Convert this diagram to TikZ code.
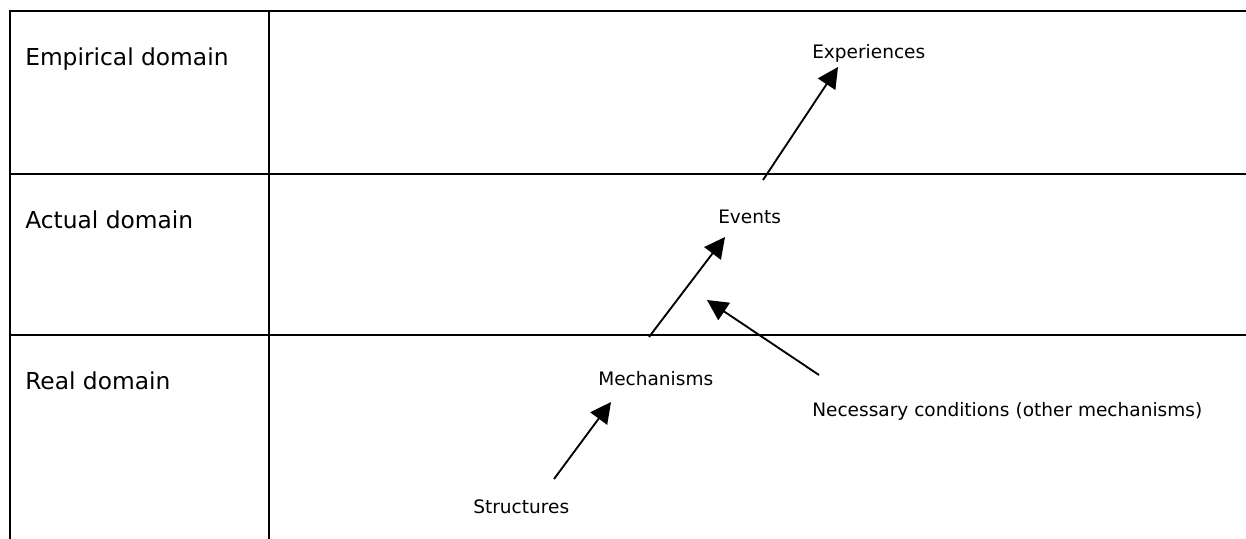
\documentclass[tikz,border=0pt]{standalone}
\usepackage{fontspec}
\setmainfont{DejaVu Sans}
\usetikzlibrary{arrows.meta}
\begin{document}
\begin{tikzpicture}[x=0.75pt,y=-0.75pt,
  rule/.style={line width=1.6pt},
  rowhead/.style={anchor=base west,inner sep=0pt,font=\fontsize{17.5}{20}\selectfont},
  item/.style={anchor=base west,inner sep=0pt,font=\fontsize{13.9}{16}\selectfont},
  arr/.style={line width=1.4pt,-{Triangle[length=15.5pt,width=15.5pt]}}]
\useasboundingbox (0,0) rectangle (1246,539);
% table rules
\draw[rule] (10,539) -- (10,11) -- (1246,11);
\draw[rule] (269,11) -- (269,539);
\draw[rule] (10,174) -- (1246,174);
\draw[rule] (10,335) -- (1246,335);
% row headings
\node[rowhead] (emp) at (25,65) {Empirical domain};
\node[rowhead] (act) at (25,228) {Actual domain};
\node[rowhead] (real) at (25,389) {Real domain};
% layer contents
\node[item] (exp) at (812,58) {Experiences};
\node[item] (ev) at (718,223) {Events};
\node[item] (mech) at (598,385) {Mechanisms};
\node[item] (nec) at (812,416) {Necessary conditions (other mechanisms)};
\node[item] (str) at (473,513) {Structures};
% generative links
\draw[arr] ([shift={(81,-34)}]str.base west) -- ([shift={(13,17)}]mech.base west);
\draw[arr] ([shift={(51,-48)}]mech.base west) -- ([shift={(7,14)}]ev.base west);
\draw[arr] ([shift={(7,-41)}]nec.base west) -- ([shift={(-11,77)}]ev.base west);
\draw[arr] ([shift={(45,-43)}]ev.base west) -- ([shift={(26,9)}]exp.base west);
\end{tikzpicture}
\end{document}
